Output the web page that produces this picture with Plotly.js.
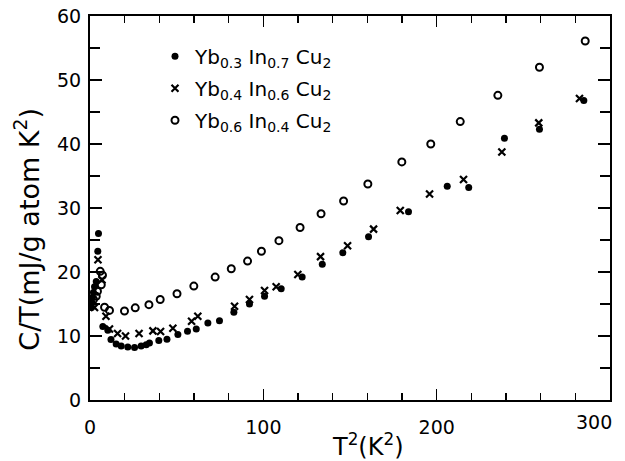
<!DOCTYPE html>
<html>
<head>
<meta charset="utf-8">
<script src="https://cdn.plot.ly/plotly-3.0.1.min.js"></script>
<style>html,body{margin:0;padding:0;background:#fff;}#chart{width:625px;height:461px;}</style>
</head>
<body>
<div id="chart"></div>
<script>
// Yb0.3 In0.7 Cu2 (filled circles)
const t2_yb03 = [0.9, 1.15, 1.4, 2.0, 2.6, 3.6, 4.5, 4.9, 7.4, 10.3, 12.1, 15.1, 18.0, 21.8, 25.7, 29.5, 32.4, 34.3, 39.7, 44.4, 50.7, 56.25, 61.3, 68.0, 74.7, 83.0, 92.0, 100.7, 110.3, 122.4, 134.0, 145.85, 160.7, 183.75, 206.1, 218.5, 239.1, 259.3, 284.9];
const ct_yb03 = [14.45, 15.2, 16.0, 16.8, 17.7, 18.5, 23.25, 26.0, 11.5, 10.9, 9.45, 8.75, 8.45, 8.3, 8.2, 8.45, 8.65, 8.9, 9.3, 9.5, 10.25, 10.75, 11.1, 12.05, 12.4, 13.7, 15.0, 16.2, 17.4, 19.2, 21.2, 23.0, 25.5, 29.4, 33.4, 33.2, 40.9, 42.3, 46.8];

// Yb0.4 In0.6 Cu2 (crosses)
const t2_yb04 = [0.6, 2.6, 4.6, 6.9, 9.2, 11.25, 15.9, 20.5, 28.3, 36.3, 40.7, 47.8, 58.6, 62.2, 83.4, 92.0, 100.7, 107.4, 119.9, 133.0, 148.6, 163.6, 179.0, 195.9, 215.5, 237.6, 258.9, 282.4];
const ct_yb04 = [14.9, 14.45, 21.9, 18.8, 13.1, 11.1, 10.4, 10.0, 10.4, 10.8, 10.7, 11.2, 12.3, 13.1, 14.65, 15.7, 17.1, 17.7, 19.6, 22.4, 24.1, 26.7, 29.6, 32.2, 34.45, 38.75, 43.3, 47.1];

// Yb0.6 In0.4 Cu2 (open circles)
const t2_yb06 = [2.0, 3.6, 4.3, 5.9, 6.5, 7.2, 8.4, 11.25, 19.9, 26.1, 34.0, 40.5, 50.2, 59.9, 72.2, 81.5, 90.9, 98.9, 109.0, 121.2, 133.3, 146.3, 160.3, 179.9, 196.6, 213.6, 235.3, 259.3, 285.7];
const ct_yb06 = [15.7, 16.2, 17.0, 20.1, 18.0, 19.5, 14.5, 14.0, 13.9, 14.4, 14.9, 15.7, 16.6, 17.8, 19.2, 20.5, 21.7, 23.25, 24.9, 26.95, 29.1, 31.1, 33.75, 37.2, 40.0, 43.5, 47.6, 52.0, 56.1];

const seriesNames = [
  "Yb<sub>0.3</sub> In<sub>0.7</sub> Cu<sub>2</sub>",
  "Yb<sub>0.4</sub> In<sub>0.6</sub> Cu<sub>2</sub>",
  "Yb<sub>0.6</sub> In<sub>0.4</sub> Cu<sub>2</sub>"
];

// tick labels
const xTickVals = [0, 100, 200, 300];
const xTickText = ["0", "100", "200", "300"];

const FONT = "DejaVu Sans";
const xRange = [0, 300];
const yRange = [0, 60];

// the last x label sits left of its tick in the reference (inside the frame): drawn as an annotation
const lastIdx = xTickText.length - 1;
const xTickShown = xTickText.map((t, i) => i === lastIdx ? "" : t);

const traces = [
  {x: t2_yb03, y: ct_yb03, name: seriesNames[0], legendgroup: "a", mode: "markers", type: "scatter",
   marker: {symbol: "circle", size: 7, color: "#000"}},
  {x: t2_yb04, y: ct_yb04, name: seriesNames[1], legendgroup: "b", mode: "markers", type: "scatter",
   marker: {symbol: "x-thin-open", size: 7, color: "#000", line: {color: "#000", width: 2.2}}},
  {x: t2_yb06, y: ct_yb06, name: seriesNames[2], legendgroup: "c", mode: "markers", type: "scatter",
   marker: {symbol: "circle-open", size: 7, color: "#000", line: {color: "#000", width: 2}}},
  // empty trace that only registers the mirrored top/right frame axes
  {x: [], y: [], xaxis: "x2", yaxis: "y2", mode: "markers", type: "scatter", showlegend: false, hoverinfo: "skip"}
];

const tickCommon = {showgrid: false, zeroline: false, showline: true, linecolor: "#000", linewidth: 2,
  ticks: "inside", tickwidth: 1.5, tickcolor: "#000"};

const layout = {
  width: 625, height: 461,
  margin: {l: 90, r: 15, t: 16, b: 61, pad: 0},
  paper_bgcolor: "#fff", plot_bgcolor: "#fff",
  font: {family: FONT, color: "#000", size: 19},
  showlegend: true,
  legend: {x: 0.125, y: 0.946, xanchor: "left", yanchor: "top", bgcolor: "rgba(0,0,0,0)",
           font: {family: FONT, size: 20, color: "#000"}, tracegroupgap: 3, itemwidth: 30},
  xaxis: Object.assign({}, tickCommon, {
    range: xRange, tickmode: "array", tickvals: xTickVals, ticktext: xTickShown, ticklen: 11,
    ticklabelstandoff: 9,
    tickfont: {family: FONT, size: 19, color: "#000"},
    minor: {dtick: 20, tick0: 0, ticks: "inside", ticklen: 7, tickwidth: 1.5, tickcolor: "#000", showgrid: false}
  }),
  yaxis: Object.assign({}, tickCommon, {
    range: yRange, dtick: 10, tick0: 0, ticklen: 12,
    ticklabelstandoff: 3,
    tickfont: {family: FONT, size: 19, color: "#000"},
    minor: {dtick: 5, ticks: "inside", ticklen: 10, tickwidth: 1.5, tickcolor: "#000", showgrid: false}
  }),
  xaxis2: Object.assign({}, tickCommon, {
    overlaying: "x", side: "top", anchor: "y2", range: xRange, dtick: 100, tick0: 0, ticklen: 11,
    showticklabels: false,
    minor: {dtick: 20, ticks: "inside", ticklen: 7, tickwidth: 1.5, tickcolor: "#000", showgrid: false}
  }),
  yaxis2: Object.assign({}, tickCommon, {
    overlaying: "y", side: "right", anchor: "x2", range: yRange, dtick: 10, tick0: 0, ticklen: 12,
    showticklabels: false,
    minor: {dtick: 5, ticks: "inside", ticklen: 10, tickwidth: 1.5, tickcolor: "#000", showgrid: false}
  }),
  annotations: [
    {text: xTickText[lastIdx], xref: "x", yref: "paper", x: xTickVals[lastIdx], y: (400.5 - 423) / 384.5,
     xanchor: "right", yanchor: "middle", xshift: 4, showarrow: false, font: {family: FONT, size: 19, color: "#000"}},
    {text: "T<sup>2</sup>(K<sup>2</sup>)", xref: "paper", yref: "paper", x: (368 - 90) / 520, y: (400.5 - 446) / 384.5,
     xanchor: "center", yanchor: "middle", showarrow: false, font: {family: FONT, size: 24, color: "#000"}},
    {text: "C/T(mJ/g atom K<sup>2</sup>)", xref: "paper", yref: "paper", x: (27 - 90) / 520, y: (400.5 - 230) / 384.5,
     xanchor: "center", yanchor: "middle", textangle: -90, showarrow: false, font: {family: FONT, size: 27, color: "#000"}}
  ]
};

Plotly.newPlot("chart", traces, layout, {staticPlot: true, displayModeBar: false});
</script>
</body>
</html>
